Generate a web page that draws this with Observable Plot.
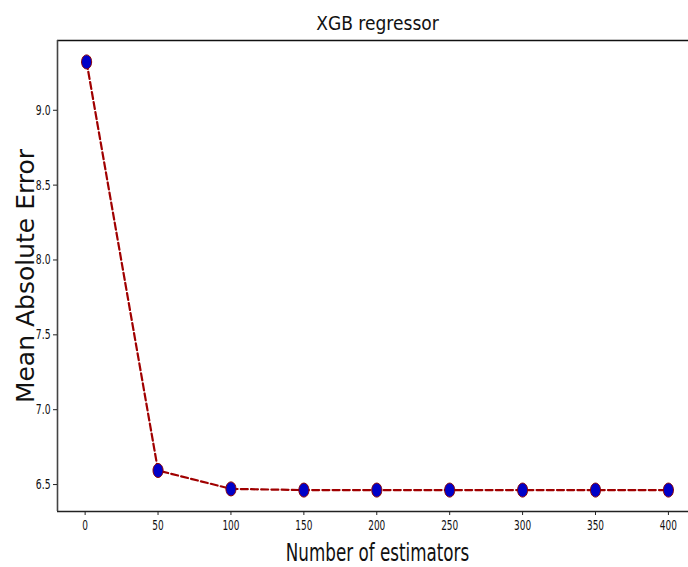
<!DOCTYPE html>
<html>
<head>
<meta charset="utf-8">
<script src="https://cdn.jsdelivr.net/npm/d3@7"></script>
<script src="https://cdn.jsdelivr.net/npm/@observablehq/plot@0.6"></script>
<style>
  html, body { margin: 0; padding: 0; background: #fff; width: 688px; height: 567px; overflow: hidden; }
  #chart { width: 688px; overflow: hidden; }
  #chart svg { display: block; background: #fff; max-width: none !important; }
</style>
</head>
<body>
<div id="chart"></div>
<script>
const estimators = [1, 50, 100, 150, 200, 250, 300, 350, 400];
const mae = [9.323, 6.594, 6.471, 6.463, 6.463, 6.463, 6.463, 6.463, 6.463];
const xTicks = [0, 50, 100, 150, 200, 250, 300, 350, 400];
const yTicks = [6.5, 7.0, 7.5, 8.0, 8.5, 9.0];
const xDomain = [-18.95, 419.95];
const yDomain = [6.32, 9.466];
const titleText = "XGB regressor";
const xLabel = "Number of estimators";
const yLabel = "Mean Absolute Error";

const data = estimators.map((e, i) => ({n: e, mae: mae[i]}));

// vertically elongated marker (the reference image is squeezed horizontally)
const ellipse = {
  draw(ctx, size) {
    const r = Math.sqrt(size / Math.PI);
    const rx = r * 0.72, ry = r, k = 0.5523;
    ctx.moveTo(rx, 0);
    ctx.bezierCurveTo(rx, k * ry, k * rx, ry, 0, ry);
    ctx.bezierCurveTo(-k * rx, ry, -rx, k * ry, -rx, 0);
    ctx.bezierCurveTo(-rx, -k * ry, -k * rx, -ry, 0, -ry);
    ctx.bezierCurveTo(k * rx, -ry, rx, -k * ry, rx, 0);
    ctx.closePath();
  }
};

const plot = Plot.plot({
  width: 698,
  height: 567,
  marginLeft: 57,
  marginRight: 1,
  marginTop: 40,
  marginBottom: 56,
  style: {fontFamily: "DejaVu Sans", background: "#fff", color: "#111", maxWidth: "none"},
  x: {domain: xDomain},
  y: {domain: yDomain},
  marks: [
    // spines: top, bottom, left (the right one lies outside the cropped picture)
    Plot.ruleY([yDomain[1]], {stroke: "#111", strokeWidth: 1.4}),
    Plot.ruleY([yDomain[0]], {stroke: "#222", strokeWidth: 1.6}),
    Plot.ruleX([xDomain[0]], {stroke: "#444", strokeWidth: 1.6}),
    Plot.axisX(xTicks, {tickSize: 4, tickPadding: 5, fontSize: 14, label: null, stroke: "#222"}),
    Plot.axisY(yTicks, {tickSize: 4, tickPadding: 3, fontSize: 14, label: null, tickFormat: d => d.toFixed(1), stroke: "#222"}),
    Plot.line(data, {x: "n", y: "mae", stroke: "#a00000", strokeWidth: 2.2, strokeDasharray: "7,3.2"}),
    Plot.dot(data, {x: "n", y: "mae", r: 7, symbol: ellipse, fill: "#0000c8", stroke: "#8b0000", strokeWidth: 1}),
    Plot.text([titleText], {frameAnchor: "top", lineAnchor: "bottom", dy: -11, fontSize: 19, fill: "#111", className: "ttl"}),
    Plot.text([xLabel], {frameAnchor: "bottom", lineAnchor: "bottom", dy: 49, fontSize: 25, fill: "#111", className: "xl"}),
    Plot.text([yLabel], {frameAnchor: "left", rotate: -90, textAnchor: "middle", lineAnchor: "bottom", dx: -24, dy: 0, fontSize: 25, fill: "#111", className: "yl"})
  ]
});
plot.style.maxWidth = "none";
document.getElementById("chart").appendChild(plot);

// squeeze text horizontally like the reference
function squeeze(sel, s) {
  plot.querySelectorAll(sel).forEach(el => {
    const L = el.getComputedTextLength();
    el.setAttribute("textLength", (L * s).toFixed(2));
    el.setAttribute("lengthAdjust", "spacingAndGlyphs");
  });
}
squeeze('g[aria-label="x-axis tick label"] text', 0.64);
squeeze('g[aria-label="y-axis tick label"] text', 0.66);
squeeze('.ttl text', 0.9);
squeeze('.xl text', 0.67);
</script>
</body>
</html>
